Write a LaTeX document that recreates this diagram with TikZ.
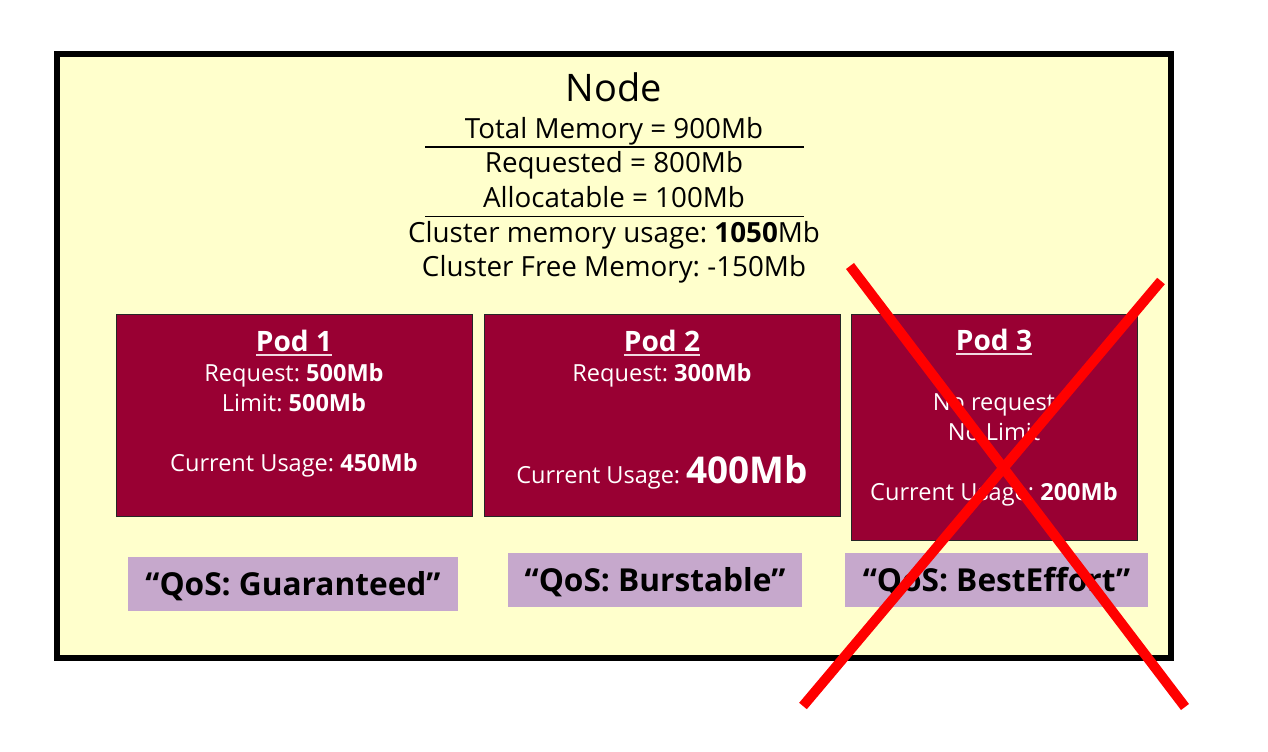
\documentclass[tikz,border=0pt]{standalone}
\usepackage{fontspec}
\setmainfont{Open Sans}
\frenchspacing

\definecolor{nodeyellow}{HTML}{FFFFCC}
\definecolor{podred}{HTML}{990033}
\definecolor{qospurple}{HTML}{C6A8CC}
\definecolor{crossred}{HTML}{FF0000}

\newcommand{\podtitle}[1]{{\fontsize{16}{17}\selectfont\bfseries
  \setbox0=\hbox{#1}\rlap{\color{white!85!podred}\rule[-2.4pt]{\wd0}{0.9pt}}\box0}}

\begin{document}
\begin{tikzpicture}[node distance=7.36cm]
  \tikzstyle{every node}=[font=\fontsize{13.4}{17.07}\selectfont]
  \tikzstyle{podbox}=[rectangle, draw=black!85, line width=0.5pt, fill=podred,
                minimum width=7.12cm, minimum height=4.04cm, inner sep=0pt]
  \tikzstyle{podtext}=[text=white, inner sep=0pt, anchor=base]
  \tikzstyle{qosbox}=[rectangle, fill=qospurple, minimum height=1.08cm, inner sep=0pt,
                text height=0.46cm, text depth=0cm, font=\fontsize{18}{20}\selectfont\bfseries]
  \tikzstyle{infoline}=[font=\fontsize{15.8}{18}\selectfont, inner sep=0pt, anchor=base]

  \useasboundingbox (0,0) rectangle (25.36,-15.04);

  % Main box
  \node (node) [rectangle, draw=black, line width=3.4pt, fill=nodeyellow,
                minimum width=22.29cm, minimum height=12.09cm] at (12.28,-7.12) {};

  % Memory figures
  \node (title) [infoline, font=\fontsize{21.6}{24}\selectfont] at (12.28,-2.04) {Node};
  \node (total) [infoline] at (12.28,-2.76) {Total Memory = 900Mb};
  \node (requested) [infoline] at (12.28,-3.44) {Requested = 800Mb};
  \node (allocatable) [infoline] at (12.28,-4.14) {Allocatable = 100Mb};
  \node (usage) [infoline] at (12.28,-4.84) {Cluster memory usage: \textbf{1050}Mb};
  \node (free) [infoline] at (12.28,-5.52) {Cluster Free Memory: -150Mb};
  \draw[line width=0.6pt] (8.5,-2.94) -- (16.08,-2.94);
  \draw[line width=0.6pt] (8.5,-4.33) -- (16.08,-4.33);

  % Pods
  \node (pod1) [podbox] at (5.88,-8.30) {};
  \node (pod2) [podbox, right of=pod1] {};
  \node (pod3) [podbox, right of=pod2, xshift=-0.72cm, yshift=-0.24cm,
                minimum width=5.72cm, minimum height=4.52cm] {};

  \node (pod1text) [podtext] at ([yshift=-0.76cm]pod1.north)
                {\tabular[t]{c} \podtitle{Pod 1}\\ Request: \textbf{500Mb}\\
                Limit: \textbf{500Mb}\\ \\ Current Usage: \textbf{450Mb} \endtabular};
  \node (pod2text) [podtext] at ([yshift=-0.76cm]pod2.north)
                {\tabular[t]{c} \podtitle{Pod 2}\\ Request: \textbf{300Mb}\\ \\ \\[0.1cm]
                Current Usage: {\fontsize{21}{24}\selectfont\bfseries 400Mb} \endtabular};
  \node (pod3text) [podtext] at ([yshift=-0.74cm]pod3.north)
                {\tabular[t]{c} \podtitle{Pod 3}\\ \\ No request\\ No Limit\\ \\
                Current Usage: \textbf{200Mb} \endtabular};

  % QoS classes
  \node (qos1) [qosbox, minimum width=6.6cm, below of=pod1, node distance=3.37cm,
                xshift=-0.02cm] {``QoS: Guaranteed''};
  \node (qos2) [qosbox, minimum width=5.88cm, below of=pod2, node distance=3.30cm,
                xshift=-0.14cm] {``QoS: Burstable''};
  \node (qos3) [qosbox, minimum width=6.06cm, below of=pod3, node distance=3.06cm,
                xshift=0.05cm] {``QoS: BestEffort''};

  % Cross
  \coordinate (crossa) at (17.0,-5.32);
  \coordinate (crossb) at (23.70,-14.14);
  \coordinate (crossc) at (23.22,-5.62);
  \coordinate (crossd) at (16.06,-14.12);
  \draw[crossred, line width=0.2cm] (crossa) -- (crossb);
  \draw[crossred, line width=0.2cm] (crossc) -- (crossd);
\end{tikzpicture}
\end{document}
